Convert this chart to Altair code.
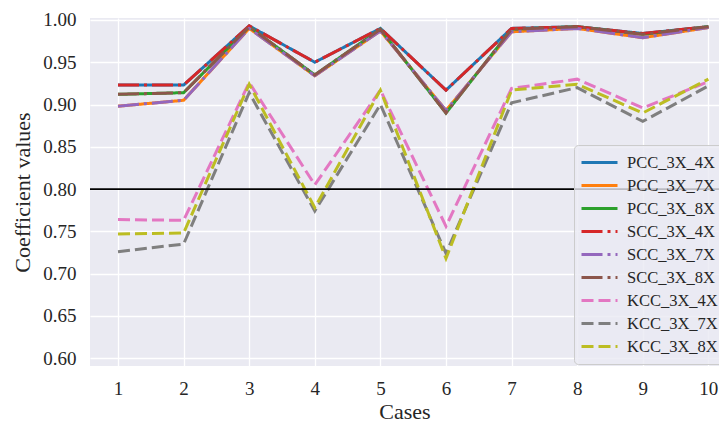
import altair as alt
import pandas as pd

cases = [1, 2, 3, 4, 5, 6, 7, 8, 9, 10]
series_names = ["PCC_3X_4X", "PCC_3X_7X", "PCC_3X_8X",
                "SCC_3X_4X", "SCC_3X_7X", "SCC_3X_8X",
                "KCC_3X_4X", "KCC_3X_7X", "KCC_3X_8X"]
pcc_3x_4x = [0.923, 0.923, 0.993, 0.950, 0.990, 0.917, 0.990, 0.992, 0.984, 0.992]
pcc_3x_7x = [0.898, 0.905, 0.990, 0.934, 0.987, 0.893, 0.986, 0.990, 0.979, 0.991]
pcc_3x_8x = [0.912, 0.914, 0.992, 0.935, 0.989, 0.890, 0.989, 0.992, 0.983, 0.992]
scc_3x_4x = [0.923, 0.923, 0.993, 0.950, 0.990, 0.917, 0.990, 0.992, 0.984, 0.992]
scc_3x_7x = [0.898, 0.905, 0.990, 0.934, 0.987, 0.893, 0.986, 0.990, 0.979, 0.991]
scc_3x_8x = [0.912, 0.914, 0.992, 0.935, 0.989, 0.890, 0.989, 0.992, 0.983, 0.992]
kcc_3x_4x = [0.764, 0.763, 0.926, 0.805, 0.917, 0.756, 0.919, 0.930, 0.896, 0.927]
kcc_3x_7x = [0.726, 0.735, 0.914, 0.774, 0.900, 0.724, 0.902, 0.920, 0.880, 0.922]
kcc_3x_8x = [0.747, 0.748, 0.924, 0.778, 0.917, 0.718, 0.917, 0.924, 0.890, 0.930]
threshold = [0.80]
y_ticks = [0.60, 0.65, 0.70, 0.75, 0.80, 0.85, 0.90, 0.95, 1.00]

colors = ["#1f77b4", "#ff7f0e", "#2ca02c", "#d62728", "#9467bd",
          "#8c564b", "#e377c2", "#7f7f7f", "#bcbd22"]
solid = [1, 0]
dashdot = [21, 5, 3, 5]
dashed = [12, 5]
dashes = [solid, solid, solid, dashdot, dashdot, dashdot, dashed, dashed, dashed]

all_series = [pcc_3x_4x, pcc_3x_7x, pcc_3x_8x, scc_3x_4x, scc_3x_7x,
              scc_3x_8x, kcc_3x_4x, kcc_3x_7x, kcc_3x_8x]
rows = []
for i, (name, vals) in enumerate(zip(series_names, all_series)):
    for c, v in zip(cases, vals):
        rows.append({"Case": c, "Value": v, "Series": name})
df = pd.DataFrame(rows)

FONT = "Liberation Serif"
TXT = "#262626"

x_enc = alt.X("Case:Q", scale=alt.Scale(domain=[0.573, 10.162], nice=False, zero=False),
              axis=alt.Axis(values=cases, title="Cases", format="d", grid=True,
                            gridColor="white", gridWidth=1.3, domain=False, ticks=False,
                            labelFont=FONT, labelFontSize=19, labelColor=TXT,
                            labelPadding=13, titleFont=FONT, titleFontSize=22,
                            titleFontWeight="normal", titleColor=TXT, titlePadding=3))
y_enc = alt.Y("Value:Q", scale=alt.Scale(domain=[0.5908, 1.0023], nice=False, zero=False),
              axis=alt.Axis(values=y_ticks, title="Coefficient values", format=".2f",
                            grid=True, gridColor="white", gridWidth=1.3, domain=False,
                            ticks=False, labelFont=FONT, labelFontSize=19,
                            labelColor=TXT, labelPadding=14, titleFont=FONT,
                            titleFontSize=22, titleFontWeight="normal",
                            titleColor=TXT, titlePadding=8))

lines = alt.Chart(df).mark_line(strokeWidth=3, clip=True).encode(
    x=x_enc,
    y=y_enc,
    color=alt.Color("Series:N", scale=alt.Scale(domain=series_names, range=colors),
                    sort=series_names,
                    legend=alt.Legend(title=None, orient="none", legendX=484, legendY=127,
                                      symbolType="stroke", symbolStrokeWidth=3,
                                      symbolSize=1296, rowPadding=0, clipHeight=23,
                                      labelFont=FONT, labelFontSize=16.5, labelColor=TXT,
                                      labelOffset=8, labelLimit=200,
                                      padding=6, fillColor="rgba(234,234,242,0.8)",
                                      strokeColor="#cccccc", cornerRadius=4)),
    strokeDash=alt.StrokeDash("Series:N", scale=alt.Scale(domain=series_names, range=dashes),
                              sort=series_names, legend=alt.Legend(title=None)),
    order=alt.Order("Case:Q"),
)

rule = alt.Chart(pd.DataFrame({"y": threshold})).mark_rule(
    color="black", strokeWidth=1.6).encode(y="y:Q")

chart = alt.layer(lines, rule).properties(
    width=629, height=348,
    autosize=alt.AutoSizeParams(type="none"),
    padding={"left": 82, "top": 10, "right": 0, "bottom": 57},
).configure_view(fill="#EAEAF2", stroke=None)

chart.save("out.html", embed_options={"renderer": "svg", "actions": False})
